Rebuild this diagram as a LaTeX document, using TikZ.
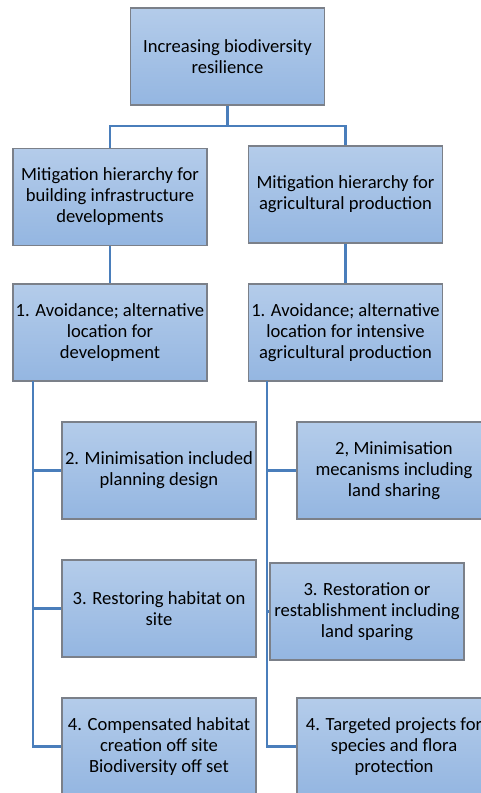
\documentclass[tikz,border=0pt]{standalone}
\usepackage{fontspec}
\setmainfont{Carlito}
\usepackage{xcolor}
\usepackage{tikz}
\usetikzlibrary{calc}
\definecolor{boxtop}{HTML}{B4CCEA}
\definecolor{boxbot}{HTML}{94B6E1}
\definecolor{boxline}{HTML}{7B8089}
\definecolor{linkblue}{HTML}{4A7EBB}

\tikzset{
    box/.style={draw=boxline, line width=1.2pt, top color=boxtop, bottom color=boxbot,
        minimum width=194pt, minimum height=97pt, align=center, inner sep=1pt,
        font=\fontsize{18.6}{21}\selectfont},
    link/.style={draw=linkblue, line width=2.4pt}
}

\begin{document}
\begin{tikzpicture}[x=1pt, y=-1pt]
    % basics
    \clip (0,0) rectangle (481,793);
    \fill[white] (0,0) rectangle (481,793);

    \node[box] (top)    at (227.5,56.5) {Increasing biodiversity\\resilience};
    \node[box] (bldg)   at (110,197)    {Mitigation hierarchy for\\building infrastructure\\developments};
    \node[box] (agri)   at (345.5,194.5) {Mitigation hierarchy for\\agricultural production};
    \node[box] (avoidB) at (110,332.5)  {1. Avoidance; alternative\\location for\\development};
    \node[box] (avoidA) at (345.5,332.5) {1. Avoidance; alternative\\location for intensive\\agricultural production};

    \node[box] (minB)   at (159,470.5)  {2. Minimisation included\\planning design};
    \node[box] (restB)  at (159,608.5)  {3. Restoring habitat on\\site};
    \node[box] (compB)  at (159,746.5)  {4. Compensated habitat\\creation off site\\Biodiversity off set};

    \node[box] (minA)   at (394,470.5)  {2, Minimisation\\mecanisms including\\land sharing};
    \node[box] (restA)  at (367,611.5)  {3. Restoration or\\restablishment including\\land sparing};
    \node[box] (targA)  at (394,746.5)  {4. Targeted projects for\\species and flora\\protection};

    % links
    \coordinate (split)  at (227.5,126);
    \coordinate (trunkB) at (33,381);
    \coordinate (trunkA) at (267,381);

    \draw[link] (top.south) -- (split);
    \draw[link] (bldg.north) |- (split) -| (agri.north);
    \draw[link] (bldg.south) -- (avoidB.north);
    \draw[link] (agri.south) -- (avoidA.north);

    \draw[link] (trunkB) |- (compB.west);
    \draw[link] (trunkB |- minB.west) -- (minB.west);
    \draw[link] (trunkB |- restB.west) -- (restB.west);

    \draw[link] (trunkA) |- (targA.west);
    \draw[link] (trunkA |- minA.west) -- (minA.west);
    \draw[link] (trunkA |- restA.west) -- (restA.west);
\end{tikzpicture}
\end{document}
